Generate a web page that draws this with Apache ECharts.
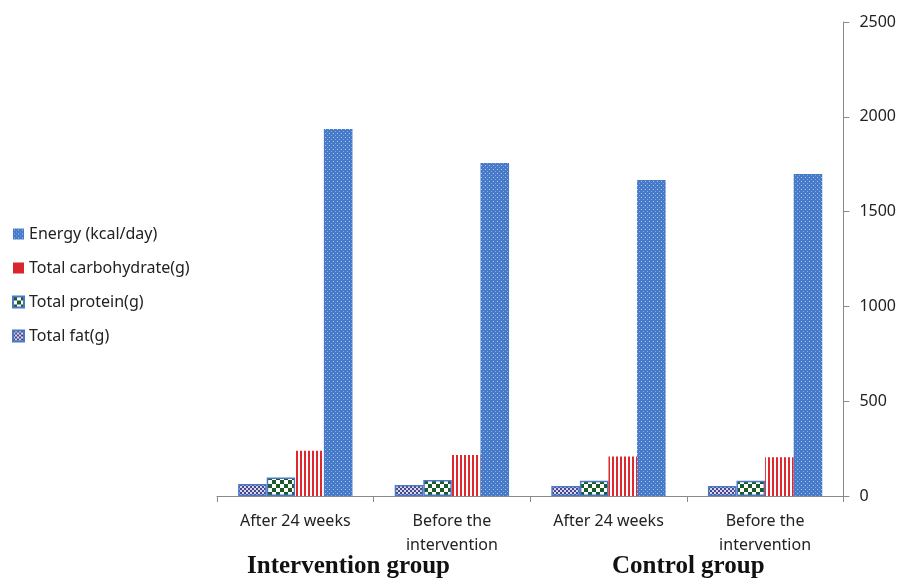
<!DOCTYPE html>
<html>
<head>
<meta charset="utf-8">
<script src="https://cdn.jsdelivr.net/npm/echarts@6/dist/echarts.min.js"></script>
<style>html,body{margin:0;padding:0;background:#fff}#c{width:899px;height:578px}</style>
</head>
<body>
<div id="c"></div>
<script>
var categories = ['After 24 weeks', 'Before the\nintervention', 'After 24 weeks', 'Before the\nintervention'];
var groupLabels = ['Intervention group', 'Control group'];
var seriesNames = ['Total fat(g)', 'Total protein(g)', 'Total carbohydrate(g)', 'Energy (kcal/day)'];
var fat = [63, 58, 53, 53];
var protein = [97, 84, 81, 81];
var carb = [239, 216, 208, 204];
var energy = [1936, 1756, 1667, 1698];
var yTicks = [0, 500, 1000, 1500, 2000, 2500];

function makePattern(w, h, draw) {
  var c = document.createElement('canvas');
  c.width = w; c.height = h;
  var ctx = c.getContext('2d');
  draw(ctx);
  return { image: c, repeat: 'repeat' };
}
var energyPat = makePattern(4, 4, function (ctx) {
  ctx.fillStyle = '#477bc9'; ctx.fillRect(0, 0, 4, 4);
  ctx.fillStyle = '#a9c8ef'; ctx.fillRect(1, 1, 1, 1);
  ctx.fillStyle = '#84a9de'; ctx.fillRect(3, 3, 1, 1);
});
var carbPat = makePattern(4, 4, function (ctx) {
  ctx.fillStyle = '#ffffff'; ctx.fillRect(0, 0, 4, 4);
  ctx.fillStyle = '#e0262e'; ctx.fillRect(0, 0, 2, 4);
});
var proteinPat = makePattern(8, 8, function (ctx) {
  ctx.fillStyle = '#ffffff'; ctx.fillRect(0, 0, 8, 8);
  ctx.fillStyle = '#1d5a2a'; ctx.fillRect(0, 0, 4, 4); ctx.fillRect(4, 4, 4, 4);
});
var fatPat = makePattern(4, 4, function (ctx) {
  ctx.fillStyle = '#dcd8ec'; ctx.fillRect(0, 0, 4, 4);
  ctx.fillStyle = '#45478a'; ctx.fillRect(0, 0, 2, 2); ctx.fillRect(2, 2, 2, 2);
});

var chart = echarts.init(document.getElementById('c'));
var font = '"Noto Sans", "Open Sans", sans-serif';
chart.setOption({
  animation: false,
  backgroundColor: '#ffffff',
  grid: { left: 217, right: 54, top: 22, bottom: 82 },
  legend: {
    orient: 'vertical', left: 12, top: 226, padding: 0,
    itemWidth: 11, itemHeight: 11, itemGap: 18,
    icon: 'rect',
    data: [
      { name: 'Energy (kcal/day)' },
      { name: 'Total carbohydrate(g)', itemStyle: { color: '#d9262e' } },
      { name: 'Total protein(g)' },
      { name: 'Total fat(g)' }
    ],
    textStyle: { fontFamily: font, fontSize: 16, color: '#222' }
  },
  xAxis: {
    type: 'category', data: categories,
    axisLine: { lineStyle: { color: '#8a8a8a', width: 1 } },
    axisTick: { show: true, length: 6, lineStyle: { color: '#8a8a8a' } },
    axisLabel: { fontFamily: font, fontSize: 16, color: '#222', margin: 13, lineHeight: 24, interval: 0 }
  },
  yAxis: {
    type: 'value', position: 'right', min: 0, max: 2500, interval: 500,
    splitLine: { show: false },
    axisLine: { show: true, lineStyle: { color: '#8a8a8a' } },
    axisTick: { show: true, length: 6, lineStyle: { color: '#8a8a8a' } },
    axisLabel: { fontFamily: font, fontSize: 16, color: '#222', margin: 16,
      formatter: function (v) { return yTicks.indexOf(v) >= 0 ? String(v) : ''; } }
  },
  series: [
    { name: seriesNames[0], type: 'bar', data: fat, barGap: '0%', barCategoryGap: '27%',
      itemStyle: { color: fatPat, borderColor: '#4a78c4', borderWidth: 1.5 } },
    { name: seriesNames[1], type: 'bar', data: protein, barGap: '0%', barCategoryGap: '27%',
      itemStyle: { color: proteinPat, borderColor: '#4a78c4', borderWidth: 1.5 } },
    { name: seriesNames[2], type: 'bar', data: carb, barGap: '0%', barCategoryGap: '27%',
      itemStyle: { color: carbPat } },
    { name: seriesNames[3], type: 'bar', data: energy, barGap: '0%', barCategoryGap: '27%',
      itemStyle: { color: energyPat } }
  ],
  graphic: [
    { type: 'text', left: 247, top: 554, style: { text: groupLabels[0], font: 'bold 25px "Liberation Serif", serif', fill: '#111' } },
    { type: 'text', left: 612, top: 554, style: { text: groupLabels[1], font: 'bold 25px "Liberation Serif", serif', fill: '#111' } }
  ]
});
</script>
</body>
</html>
